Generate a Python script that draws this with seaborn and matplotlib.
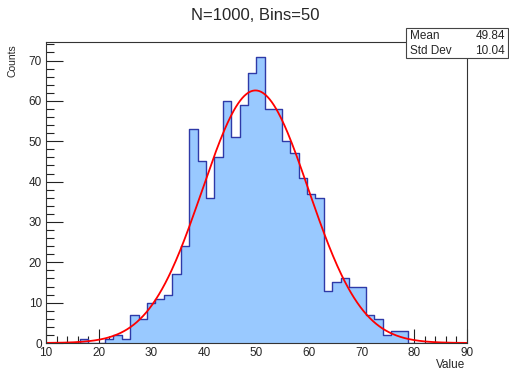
import numpy as np
import pandas as pd
import matplotlib
matplotlib.use("Agg")
import matplotlib.pyplot as plt
import seaborn as sns
from matplotlib.ticker import MultipleLocator

sns.set_theme(style="white")
plt.rcParams['font.family'] = ['Liberation Sans', 'DejaVu Sans']

# ---- data ----
bin_edges = [round(10 + 1.6 * i, 1) for i in range(51)]
counts = [0, 0, 0, 0, 1, 0, 0, 1, 2, 1,
          7, 6, 10, 11, 12, 17, 24, 53, 45, 36,
          46, 60, 51, 59, 67, 71, 58, 58, 50, 47,
          41, 37, 36, 13, 15, 16, 14, 14, 7, 6,
          2, 3, 3, 0, 0, 0, 0, 0, 0, 0]
fit_constant = 62.6
fit_mean = 49.8
fit_sigma = 10.1
stat_labels = ["Mean", "Std Dev"]
stat_values = ["49.84", "10.04"]
title = "N=1000, Bins=50"

edges = np.array(bin_edges)
centers = (edges[:-1] + edges[1:]) / 2
df = pd.DataFrame({"Value": centers, "Counts": counts})

fig = plt.figure(figsize=(5.10, 3.77), dpi=100)
ax = fig.add_axes([46/510, 1-343/377, (467-46)/510, (343-42)/377])

sns.histplot(data=df, x="Value", weights="Counts", bins=bin_edges, element="step",
             fill=True, color="#99c9ff", alpha=1.0, linewidth=0, ax=ax)
sns.histplot(data=df, x="Value", weights="Counts", bins=bin_edges, element="step",
             fill=False, color="#2e3aa8", linewidth=1.0, ax=ax)

xf = np.linspace(10, 90, 400)
yf = fit_constant * np.exp(-0.5 * ((xf - fit_mean) / fit_sigma) ** 2)
sns.lineplot(x=xf, y=yf, color="#ff0000", linewidth=1.3, ax=ax)

ax.set_xlim(10, 90)
ax.set_ylim(0, 74.6)
ax.set_xlabel("")
ax.set_ylabel("")
ax.xaxis.set_major_locator(MultipleLocator(10))
ax.xaxis.set_minor_locator(MultipleLocator(2))
ax.yaxis.set_major_locator(MultipleLocator(10))
ax.yaxis.set_minor_locator(MultipleLocator(2))
ax.tick_params(axis="both", which="both", direction="in", width=0.8,
               labelsize=8.5, color="#222222", pad=3)
ax.tick_params(axis="x", which="major", length=10)
ax.tick_params(axis="x", which="minor", length=5)
ax.tick_params(axis="y", which="major", length=12)
ax.tick_params(axis="y", which="minor", length=6)
ax.tick_params(axis="x", which="both", bottom=True, top=False)
ax.tick_params(axis="y", which="both", left=True, right=False)
for s in ax.spines.values():
    s.set_color("#333333")
    s.set_linewidth(0.8)

fig.text(255/510, 1-16/377, title, ha="center", va="center", fontsize=12)
fig.text(465/510, 1-365/377, "Value", ha="right", va="center", fontsize=8.5)
fig.text(13/510, 1-44/377, "Counts", ha="center", va="top", rotation=90, fontsize=7.5)

# stats box
bx0, by0, bx1, by1 = 406/510, 1-58/377, 508/510, 1-28/377
box = plt.Rectangle((bx0, by0), bx1-bx0, by1-by0, transform=fig.transFigure,
                    facecolor="white", edgecolor="#444444", linewidth=0.8, zorder=5)
fig.add_artist(box)
for i, (lab, val) in enumerate(zip(stat_labels, stat_values)):
    yy = 1-(36 + i*15)/377
    fig.text(410/510, yy, lab, ha="left", va="center", fontsize=8.5, zorder=6)
    fig.text(505/510, yy, val, ha="right", va="center", fontsize=8.5, zorder=6)

fig.savefig("out.png", dpi=100)
